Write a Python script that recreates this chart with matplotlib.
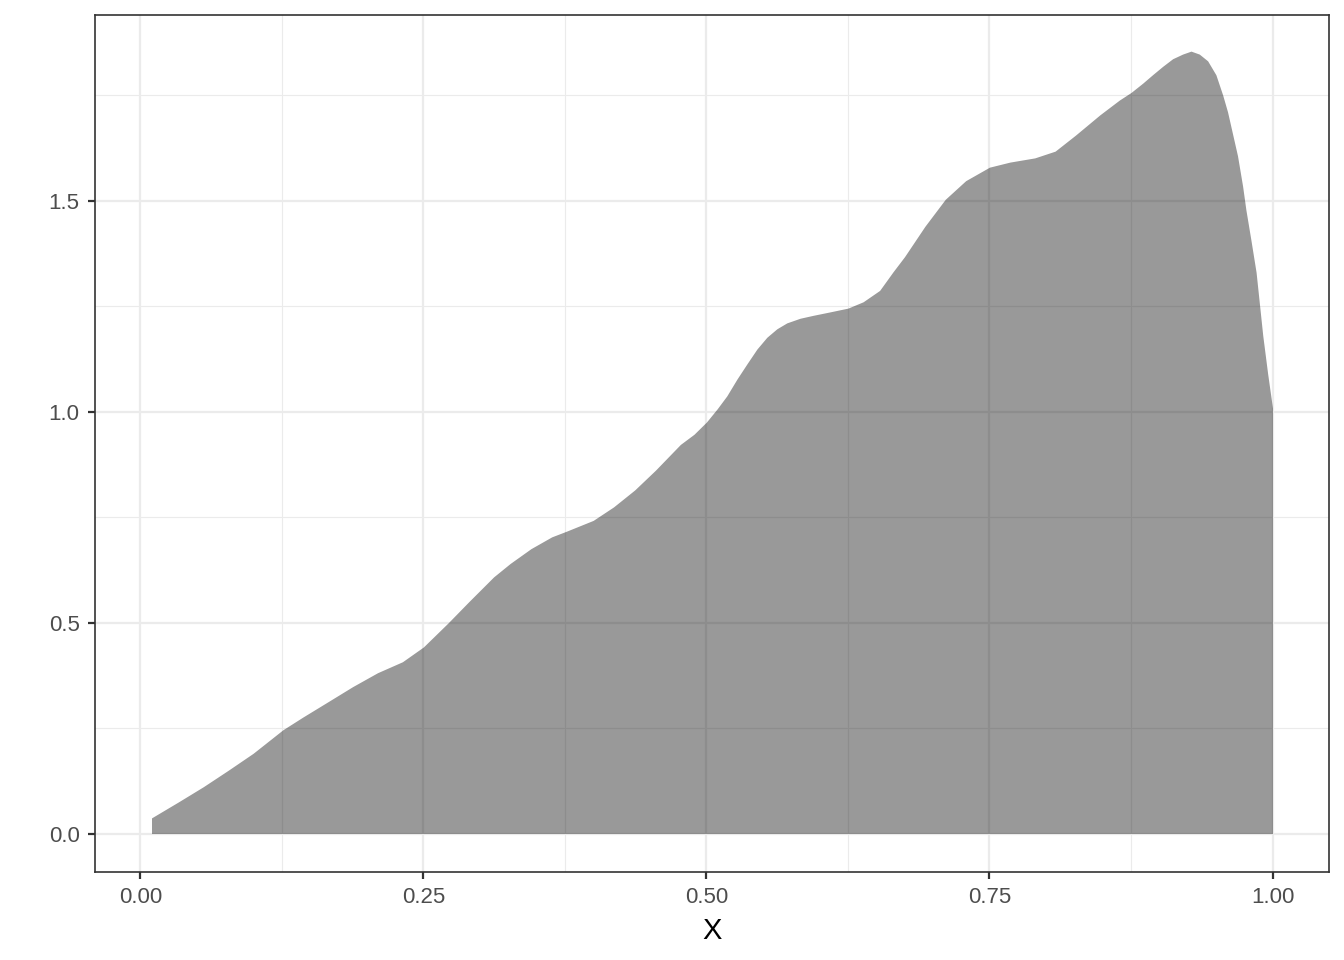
import matplotlib
matplotlib.use("Agg")
import matplotlib.pyplot as plt
from matplotlib.ticker import MultipleLocator

# density curve
x_vals = [0.0099, 0.0337, 0.0557, 0.0777, 0.0996, 0.126, 0.1436, 0.1656, 0.1875,
          0.2095, 0.2315, 0.25, 0.2718, 0.290, 0.312, 0.3267, 0.345, 0.3634, 0.376,
          0.400, 0.418, 0.4366, 0.455, 0.477, 0.489, 0.5, 0.5094, 0.518, 0.527,
          0.5358, 0.5446, 0.5534, 0.5622, 0.571, 0.5827, 0.5944, 0.609, 0.625,
          0.6384, 0.653, 0.6648, 0.675, 0.693, 0.711, 0.729, 0.750, 0.768, 0.790,
          0.808, 0.826, 0.8475, 0.8647, 0.875, 0.8853, 0.894, 0.903, 0.9118, 0.9206,
          0.928, 0.9353, 0.9427, 0.950, 0.956, 0.9603, 0.9647, 0.9691, 0.9736,
          0.9765, 0.9809, 0.9855, 0.9914, 0.9957, 1.0]
density = [0.037, 0.075, 0.111, 0.150, 0.190, 0.246, 0.276, 0.312, 0.348,
           0.381, 0.407, 0.442, 0.499, 0.549, 0.608, 0.640, 0.675, 0.703, 0.716,
           0.742, 0.774, 0.814, 0.861, 0.922, 0.946, 0.975, 1.006, 1.037, 1.077,
           1.113, 1.148, 1.176, 1.196, 1.210, 1.221, 1.228, 1.236, 1.245,
           1.260, 1.287, 1.331, 1.367, 1.439, 1.503, 1.547, 1.579, 1.591, 1.601,
           1.617, 1.655, 1.703, 1.738, 1.756, 1.778, 1.798, 1.818, 1.836, 1.847,
           1.854, 1.847, 1.831, 1.798, 1.750, 1.710, 1.658, 1.606, 1.534,
           1.478, 1.407, 1.330, 1.180, 1.090, 1.008]

x_ticks = [0.0, 0.25, 0.5, 0.75, 1.0]
x_labels = ["0.00", "0.25", "0.50", "0.75", "1.00"]
y_ticks = [0.0, 0.5, 1.0, 1.5]
y_labels = ["0.0", "0.5", "1.0", "1.5"]

plt.rcParams['font.family'] = ['Liberation Sans', 'DejaVu Sans']

fig = plt.figure(figsize=(13.44, 9.6), dpi=100)
ax = fig.add_axes([95 / 1344, 1 - 872 / 960, (1329 - 95) / 1344, (872 - 15) / 960])

ax.fill_between(x_vals, density, 0, color="black", alpha=0.4, linewidth=0, zorder=2)

ax.set_xlim(-0.0400, 1.0499)
ax.set_ylim(-0.0912, 1.9396)

ax.set_xticks(x_ticks)
ax.set_xticklabels(x_labels)
ax.set_yticks(y_ticks)
ax.set_yticklabels(y_labels)
ax.xaxis.set_minor_locator(MultipleLocator(0.125))
ax.yaxis.set_minor_locator(MultipleLocator(0.25))

ax.grid(True, which="major", color="#EBEBEB", linewidth=1.6, zorder=0)
ax.grid(True, which="minor", color="#EBEBEB", linewidth=0.8, zorder=0)
ax.set_axisbelow(True)

ax.tick_params(which="major", length=5, width=1.6, color="#333333",
               labelsize=16, labelcolor="#4D4D4D", pad=6)
ax.tick_params(which="minor", length=0)

for s in ax.spines.values():
    s.set_color("#333333")
    s.set_linewidth(1.2)

ax.set_xlabel("X", fontsize=21, color="black", labelpad=6)

fig.savefig("out.png", dpi=100)
